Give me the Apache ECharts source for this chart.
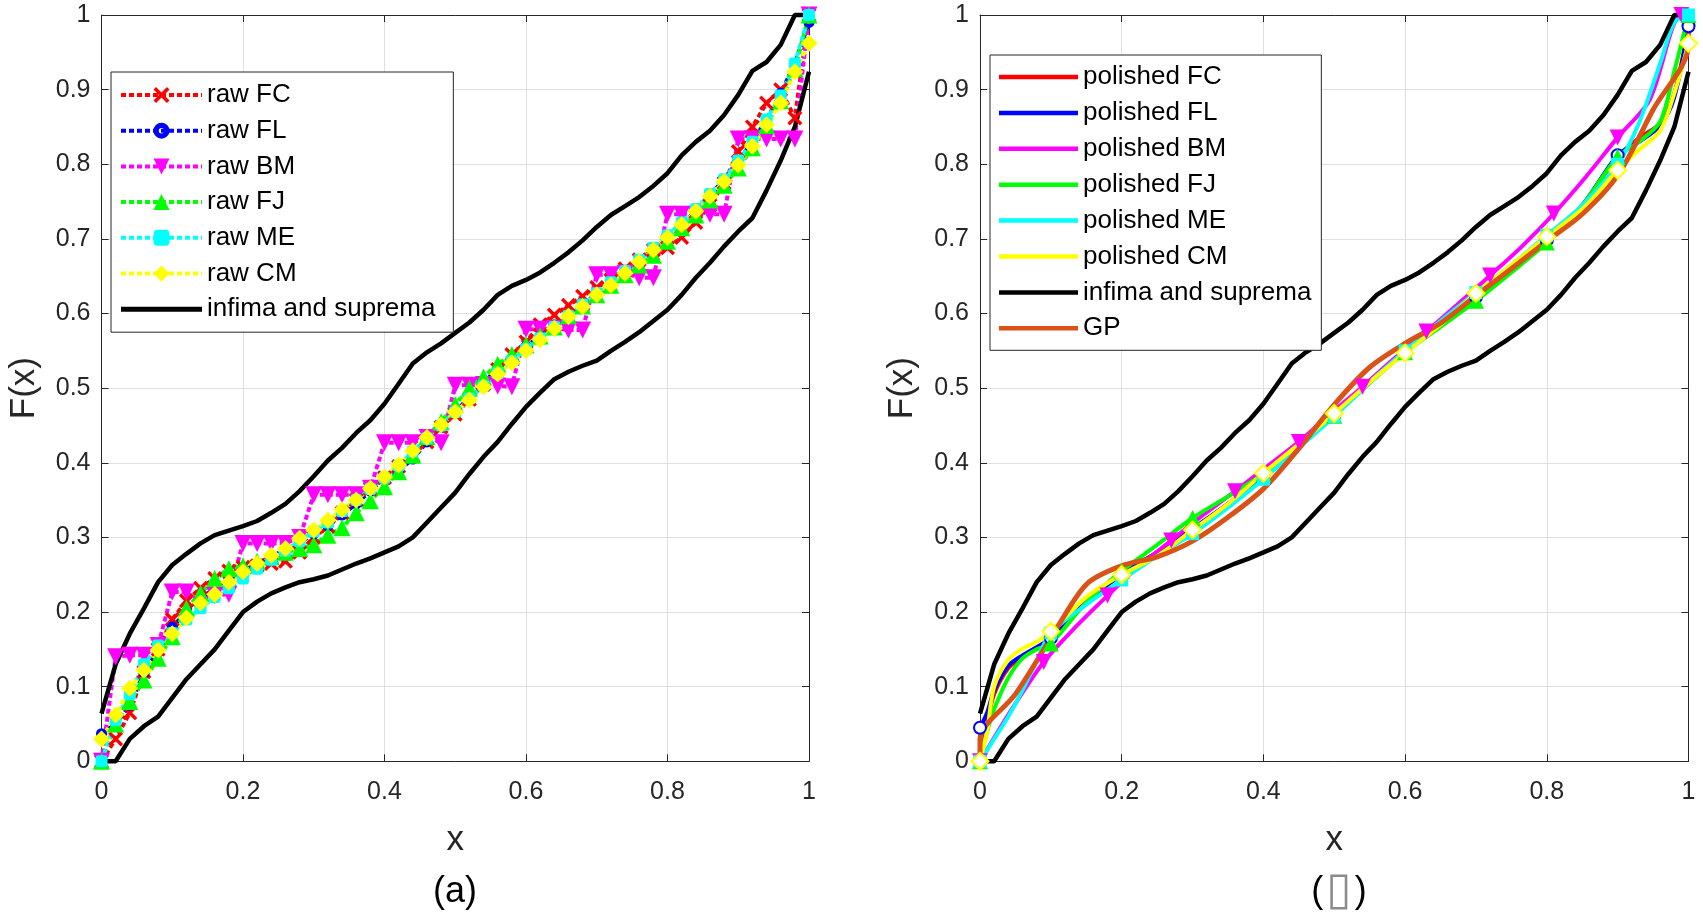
<!DOCTYPE html>
<html><head><meta charset="utf-8">
<script src="https://cdn.jsdelivr.net/npm/echarts@6/dist/echarts.min.js"></script>
<style>html,body{margin:0;padding:0;background:#fff}#c{width:1703px;height:913px}</style>
</head><body><div id="c"></div>
<script>
// ---------- data ----------
const xRaw = [0,0.02,0.04,0.06,0.08,0.1,0.12,0.14,0.16,0.18,0.2,0.22,0.24,0.26,0.28,0.3,0.32,0.34,0.36,0.38,0.4,0.42,0.44,0.46,0.48,0.5,0.52,0.54,0.56,0.58,0.6,0.62,0.64,0.66,0.68,0.7,0.72,0.74,0.76,0.78,0.8,0.82,0.84,0.86,0.88,0.9,0.92,0.94,0.96,0.98,1];
const rawFC = [0.0,0.03,0.065,0.12,0.15,0.19,0.215,0.232,0.245,0.255,0.26,0.262,0.265,0.268,0.28,0.3,0.315,0.333,0.35,0.365,0.38,0.395,0.41,0.428,0.448,0.465,0.485,0.505,0.525,0.545,0.562,0.585,0.598,0.611,0.623,0.635,0.645,0.66,0.672,0.685,0.688,0.702,0.722,0.745,0.775,0.817,0.85,0.882,0.9,0.862,1.0];
const rawFL = [0.037,0.05,0.075,0.118,0.152,0.18,0.2,0.218,0.232,0.245,0.255,0.265,0.275,0.283,0.293,0.305,0.315,0.33,0.345,0.362,0.38,0.39,0.405,0.428,0.448,0.468,0.488,0.508,0.525,0.54,0.556,0.57,0.585,0.598,0.612,0.625,0.638,0.652,0.668,0.684,0.7,0.718,0.738,0.758,0.78,0.805,0.83,0.86,0.895,0.935,0.99];
const rawBM = [0.0,0.14,0.142,0.142,0.155,0.227,0.227,0.21,0.222,0.224,0.292,0.292,0.292,0.292,0.3,0.357,0.357,0.357,0.357,0.366,0.427,0.427,0.427,0.434,0.427,0.504,0.504,0.505,0.503,0.502,0.579,0.579,0.58,0.578,0.578,0.652,0.652,0.654,0.648,0.648,0.733,0.733,0.733,0.733,0.733,0.834,0.834,0.834,0.834,0.834,1.0];
const rawFJ = [0.0,0.05,0.08,0.109,0.138,0.167,0.205,0.225,0.245,0.258,0.262,0.268,0.274,0.28,0.285,0.29,0.303,0.313,0.333,0.349,0.368,0.388,0.41,0.435,0.455,0.478,0.5,0.515,0.532,0.545,0.558,0.57,0.582,0.597,0.61,0.625,0.638,0.652,0.665,0.678,0.697,0.715,0.732,0.752,0.772,0.795,0.822,0.852,0.885,0.928,1.0];
const rawME = [0.0,0.055,0.09,0.13,0.155,0.172,0.19,0.205,0.22,0.232,0.245,0.258,0.27,0.282,0.295,0.308,0.32,0.335,0.35,0.365,0.38,0.396,0.415,0.433,0.45,0.468,0.486,0.503,0.52,0.536,0.552,0.567,0.582,0.597,0.612,0.627,0.642,0.657,0.672,0.688,0.705,0.722,0.74,0.76,0.78,0.805,0.83,0.86,0.892,0.935,1.0];
const rawCM = [0.03,0.062,0.098,0.122,0.149,0.171,0.192,0.212,0.224,0.240,0.254,0.265,0.276,0.285,0.299,0.310,0.323,0.337,0.350,0.366,0.381,0.397,0.416,0.434,0.451,0.468,0.484,0.502,0.519,0.534,0.550,0.565,0.580,0.596,0.609,0.625,0.638,0.654,0.669,0.685,0.702,0.719,0.737,0.757,0.777,0.799,0.824,0.853,0.882,0.924,0.962];
const supY = [0.064,0.13,0.171,0.205,0.24,0.263,0.278,0.292,0.303,0.309,0.315,0.322,0.333,0.345,0.362,0.382,0.403,0.42,0.44,0.457,0.479,0.506,0.533,0.548,0.56,0.574,0.588,0.605,0.625,0.637,0.645,0.655,0.668,0.682,0.698,0.716,0.732,0.744,0.756,0.771,0.788,0.812,0.83,0.845,0.866,0.893,0.925,0.937,0.96,1.0,1.0];
const infY = [0,0,0.03,0.047,0.06,0.085,0.11,0.13,0.15,0.175,0.2,0.214,0.225,0.233,0.24,0.244,0.249,0.257,0.265,0.272,0.28,0.288,0.3,0.32,0.34,0.36,0.385,0.408,0.428,0.452,0.475,0.494,0.512,0.522,0.53,0.537,0.55,0.562,0.575,0.59,0.605,0.625,0.648,0.668,0.69,0.71,0.728,0.765,0.805,0.85,0.924];

const xPol = [0,0.01,0.02,0.04,0.06,0.08,0.1,0.15,0.2,0.25,0.3,0.35,0.4,0.45,0.5,0.55,0.6,0.65,0.7,0.75,0.8,0.85,0.9,0.93,0.96,0.98,1];
const polFC = [0.0,0.05,0.09,0.125,0.14,0.152,0.165,0.215,0.252,0.28,0.31,0.345,0.382,0.422,0.465,0.51,0.55,0.585,0.622,0.66,0.7,0.745,0.81,0.835,0.855,0.895,0.985];
const polFL = [0.045,0.065,0.095,0.128,0.142,0.153,0.165,0.213,0.25,0.28,0.312,0.345,0.383,0.422,0.463,0.508,0.548,0.585,0.622,0.66,0.698,0.745,0.812,0.83,0.852,0.89,0.985];
const polFJ = [0.0,0.04,0.07,0.112,0.138,0.15,0.158,0.213,0.255,0.29,0.326,0.355,0.385,0.422,0.463,0.507,0.548,0.582,0.617,0.655,0.695,0.745,0.81,0.83,0.857,0.925,1.0];
const polME = [0.0,0.015,0.03,0.06,0.095,0.135,0.172,0.21,0.243,0.275,0.305,0.34,0.378,0.42,0.462,0.508,0.55,0.59,0.628,0.665,0.705,0.745,0.8,0.855,0.935,0.99,1.0];
const polCM = [0.0,0.04,0.1,0.136,0.151,0.16,0.174,0.22,0.25,0.275,0.31,0.345,0.386,0.425,0.466,0.508,0.547,0.585,0.627,0.665,0.703,0.74,0.792,0.819,0.845,0.895,0.962];
const xPolBM = [0,0.045,0.09,0.135,0.18,0.225,0.27,0.315,0.36,0.405,0.45,0.495,0.54,0.585,0.63,0.675,0.72,0.765,0.81,0.855,0.9,0.945,0.99,1];
const polBM = [0.0,0.07,0.133,0.18,0.222,0.262,0.296,0.33,0.362,0.395,0.428,0.466,0.502,0.54,0.576,0.613,0.651,0.69,0.734,0.783,0.836,0.886,1.0,1.0];
const xGP = [0,0,0.05,0.1,0.15,0.2,0.25,0.3,0.35,0.4,0.45,0.5,0.55,0.6,0.65,0.7,0.75,0.8,0.85,0.9,0.95,1,1];
const yGP = [0.0,0.03,0.09,0.165,0.237,0.262,0.274,0.295,0.327,0.365,0.419,0.478,0.528,0.56,0.587,0.624,0.66,0.697,0.733,0.785,0.873,0.96,1.0];

const leftNames = ['raw FC','raw FL','raw BM','raw FJ','raw ME','raw CM','infima and suprema'];
const rightNames = ['polished FC','polished FL','polished BM','polished FJ','polished ME','polished CM','infima and suprema','GP'];
const xTicks = {min:0, max:1, interval:0.2};
const yTicks = {min:0, max:1, interval:0.1};

// ---------- chart ----------
const FONT = '"Liberation Sans", Arial, sans-serif';
const AX = '#262626';
const X_PATH = 'path://M1.6,0 L5,3.4 L8.4,0 L10,1.6 L6.6,5 L10,8.4 L8.4,10 L5,6.6 L1.6,10 L0,8.4 L3.4,5 L0,1.6 Z';
const RING_PATH = 'path://M5,0 A5,5 0 1,1 4.99,0 Z M5,3.3 A1.7,1.7 0 1,0 5.01,3.3 Z';
const BAR_ICON = 'path://M0,0 L0.01,0 L0,0.01 Z M81,20 L80.99,20 L81,19.99 Z M0,7.5 L81,7.5 L81,12.5 L0,12.5 Z';
const pairs = (xs, ys) => xs.map((x, i) => [x, ys[i]]);

function rawSeries(name, color, symbol, size, ys) {
  return {type:'line', name, xAxisIndex:0, yAxisIndex:0, data:pairs(xRaw, ys), symbol, symbolSize:size, clip:false,
    lineStyle:{color, width:4, type:[5,3]},
    itemStyle:{color, borderWidth:0}};
}
function polSeries(name, color, xs, ys, step, symbol, size, empty) {
  const data = xs.map((x, i) => {
    if (!symbol) return [x, ys[i]];
    const k = x / step;
    return Math.abs(k - Math.round(k)) < 1e-6 ? [x, ys[i]] : {value:[x, ys[i]], symbol:'none'};
  });
  return {type:'line', name, xAxisIndex:1, yAxisIndex:1, data, symbol: symbol || 'none', symbolSize:size,
    smooth:0.3, clip:false,
    lineStyle:{color, width:4},
    itemStyle: empty ? {color, borderColor:color, borderWidth:3} : {color, borderWidth:0}};
}
function bound(gi, ys) {
  return {type:'line', name:'infima and suprema', xAxisIndex:gi, yAxisIndex:gi, data:pairs(xRaw, ys),
    symbol:'none', clip:false, lineStyle:{color:'#000', width:4.5}, itemStyle:{color:'#000'}};
}

function mainX(gi) {
  return Object.assign({type:'value', gridIndex:gi, position:'bottom',
    name:'x', nameLocation:'middle', nameGap:62,
    nameTextStyle:{fontSize:35, color:AX, fontFamily:FONT},
    axisLine:{show:true, onZero:false, lineStyle:{color:AX, width:1}},
    axisTick:{show:true, inside:true, length:7, lineStyle:{color:AX}},
    splitLine:{show:true, lineStyle:{color:'#dfdfdf', width:1}},
    axisLabel:{color:AX, fontSize:25, fontFamily:FONT, margin:18}}, xTicks);
}
function mainY(gi) {
  return Object.assign({type:'value', gridIndex:gi, position:'left',
    name:'F(x)', nameLocation:'middle', nameGap:60, nameRotate:90,
    nameTextStyle:{fontSize:35, color:AX, fontFamily:FONT},
    axisLine:{show:true, onZero:false, lineStyle:{color:AX, width:1}},
    axisTick:{show:true, inside:true, length:7, lineStyle:{color:AX}},
    splitLine:{show:true, lineStyle:{color:'#dfdfdf', width:1}},
    axisLabel:{color:AX, fontSize:25, fontFamily:FONT, margin:11}}, yTicks);
}
function mirror(gi, pos, ticks) {
  return Object.assign({type:'value', gridIndex:gi, position:pos,
    axisLine:{show:true, onZero:false, lineStyle:{color:AX, width:1}},
    axisTick:{show:true, inside:true, length:7, lineStyle:{color:AX}},
    splitLine:{show:false}, axisLabel:{show:false}}, ticks);
}

const rightColors = ['#ff0000','#0000ff','#ff00ff','#00ff00','#00ffff','#ffff00','#000000','#d95319'];

const option = {
  animation:false,
  backgroundColor:'#fff',
  textStyle:{fontFamily:FONT},
  grid:[
    {left:101.5, top:15, width:707.5, height:746.3, containLabel:false, outerBoundsMode:'none'},
    {left:980, top:15, width:708.5, height:746.3, containLabel:false, outerBoundsMode:'none'}
  ],
  xAxis:[mainX(0), mainX(1), mirror(0,'top',xTicks), mirror(1,'top',xTicks)],
  yAxis:[mainY(0), mainY(1), mirror(0,'right',yTicks), mirror(1,'right',yTicks)],
  legend:[
    {data:leftNames.map(n => n === 'infima and suprema' ? {name:n, icon:BAR_ICON, itemStyle:{color:'#000', borderWidth:0}} : n),
     orient:'vertical', left:111, top:72, itemWidth:81, itemHeight:20, itemGap:5.7,
     padding:[8,18,8,8], borderColor:AX, borderWidth:1, backgroundColor:'#fff', selectedMode:false,
     lineStyle:{width:4},
     textStyle:{fontSize:26, color:'#000', fontFamily:FONT, lineHeight:30}},
    {data:rightNames.map((n, i) => ({name:n, icon:'rect', itemStyle:{color:rightColors[i], borderWidth:0}})),
     orient:'vertical', left:990, top:55, itemWidth:79, itemHeight:4.5, itemGap:5.9,
     padding:[7,10,7,9], borderColor:AX, borderWidth:1, backgroundColor:'#fff', selectedMode:false,
     textStyle:{fontSize:26, color:'#000', fontFamily:FONT, lineHeight:30}}
  ],
  graphic:[
    {type:'text', x:455, y:892, style:{text:'(a)', font:'36px "Liberation Sans"', fill:'#000', textAlign:'center', textVerticalAlign:'middle'}},
    {type:'text', x:1339, y:892, style:{text:'({b|\u25AF})', font:'36px "Liberation Sans"', fill:'#000', textAlign:'center', textVerticalAlign:'middle',
      rich:{b:{fill:'#8c8c8c', fontSize:46, fontFamily:'DejaVu Sans', padding:[0,3,0,3]}}}}
  ],
  series:[
    rawSeries('raw FC', '#ff0000', X_PATH, 15, rawFC),
    rawSeries('raw FL', '#0000ff', RING_PATH, 11, rawFL),
    rawSeries('raw BM', '#ff00ff', 'triangle', 17, rawBM),
    rawSeries('raw FJ', '#00ff00', 'triangle', 17, rawFJ),
    rawSeries('raw ME', '#00ffff', 'roundRect', 12, rawME),
    rawSeries('raw CM', '#ffff00', 'diamond', 17, rawCM),
    bound(0, supY), bound(0, infY),
    polSeries('polished FC', '#ff0000', xPol, polFC, 0.1, null, 0, false),
    polSeries('polished FL', '#0000ff', xPol, polFL, 0.1, 'emptyCircle', 12, true),
    polSeries('polished BM', '#ff00ff', xPolBM, polBM, 0.09, 'triangle', 16, false),
    polSeries('polished FJ', '#00ff00', xPol, polFJ, 0.1, 'triangle', 16, false),
    polSeries('polished ME', '#00ffff', xPol, polME, 0.1, 'rect', 13, false),
    polSeries('polished CM', '#ffff00', xPol, polCM, 0.1, 'emptyDiamond', 17, true),
    bound(1, supY), bound(1, infY),
    {type:'line', name:'GP', xAxisIndex:1, yAxisIndex:1, data:pairs(xGP, yGP), symbol:'none', smooth:0.3, clip:false,
     lineStyle:{color:'#d95319', width:5}, itemStyle:{color:'#d95319'}}
  ]
};
// BM markers point down
option.series[2].symbolRotate = 180;
option.series[10].symbolRotate = 180;

const chart = echarts.init(document.getElementById('c'), null, {renderer:'canvas'});
chart.setOption(option);
</script>
</body></html>
